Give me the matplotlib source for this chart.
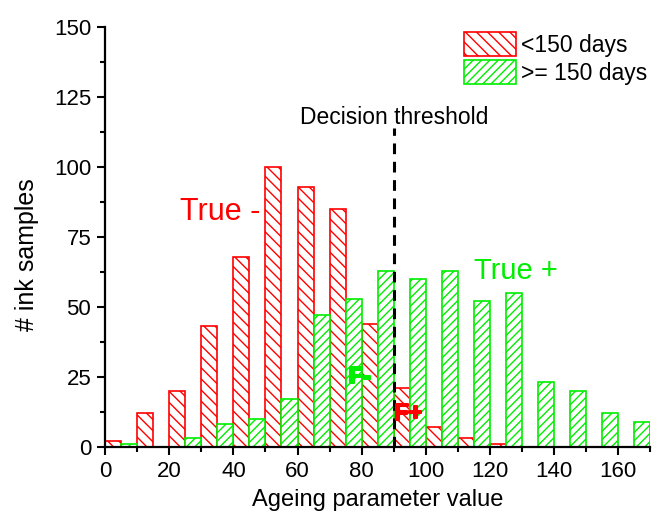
# histograma de valores del parametro de envejecimiento por grupo de edad de la tinta

import matplotlib.pyplot as plt
import matplotlib.patheffects as pe

plt.rcParams['font.family'] = ['Liberation Sans', 'DejaVu Sans']
plt.rcParams['hatch.linewidth'] = 1.0

# Limites de los intervalos (ancho 5) y recuentos
bordes_rojo = [0, 10, 20, 30, 40, 50, 60, 70, 80, 90, 100, 110, 120]
cuentas_rojo = [2, 12, 20, 43, 68, 100, 93, 85, 44, 21, 7, 3, 1]

bordes_verde = [5, 25, 35, 45, 55, 65, 75, 85, 95, 105, 115, 125, 135, 145, 155, 165]
cuentas_verde = [1, 3, 8, 10, 17, 47, 53, 63, 60, 63, 52, 55, 23, 20, 12, 9]

ancho = 5
umbral = 90

rojo = '#ff0000'
verde = '#00ee00'

fig = plt.figure(figsize=(6.65, 5.19), dpi=100)
ax = fig.add_axes([0.158, 0.139, 0.82, 0.809])

ax.bar(bordes_rojo, cuentas_rojo, width=ancho, align='edge', color='white',
       edgecolor=rojo, hatch='\\\\\\', linewidth=1.2, label='<150 days')
ax.bar(bordes_verde, cuentas_verde, width=ancho, align='edge', color='white',
       edgecolor=verde, hatch='////', linewidth=1.2, label='>= 150 days')

# Umbral de decision
ax.plot([umbral, umbral], [0, 114], color='black', linestyle=(0, (3.5, 2.5)), linewidth=2.2)
ax.text(umbral, 113.5, 'Decision threshold', ha='center', va='bottom', fontsize=16.5)

ax.text(36, 84, 'True -', color=rojo, ha='center', va='center', fontsize=22)
ax.text(128, 63, 'True +', color=verde, ha='center', va='center', fontsize=21)

# etiquetas de falsos, en negrita y con trazo extra para que resalten sobre el rayado
ax.text(79.5, 25, 'F-', color=verde, ha='center', va='center', fontsize=17,
        fontweight='bold', zorder=5,
        path_effects=[pe.withStroke(linewidth=1.5, foreground=verde)])
ax.text(94.5, 12, 'F+', color=rojo, ha='center', va='center', fontsize=17,
        fontweight='bold', zorder=5,
        path_effects=[pe.withStroke(linewidth=1.5, foreground=rojo)])

ax.set_xlim(0, 170)
ax.set_ylim(0, 150)
ax.set_xticks(range(0, 161, 20))
ax.set_xticks(range(10, 171, 20), minor=True)
ax.set_yticks(range(0, 151, 25))
ax.set_yticks([12.5 + 25 * i for i in range(6)], minor=True)

for lado in ['top', 'right']:
    ax.spines[lado].set_visible(False)
for lado in ['left', 'bottom']:
    ax.spines[lado].set_linewidth(1.6)

ax.tick_params(which='major', direction='out', length=6, width=1.5, labelsize=16, pad=4)
ax.tick_params(which='minor', direction='out', length=3.5, width=1.5)

ax.set_xlabel('Ageing parameter value', fontsize=17, labelpad=5)
ax.set_ylabel('# ink samples', fontsize=18)
ax.yaxis.set_label_coords(-0.122, 0.457)

ax.legend(loc='upper right', bbox_to_anchor=(1.02, 1.02), frameon=False, fontsize=16.5,
          handlelength=2.3, handleheight=1.2, handletextpad=0.22, labelspacing=0.15,
          borderaxespad=0.2)

fig.savefig('out.png', dpi=100)
